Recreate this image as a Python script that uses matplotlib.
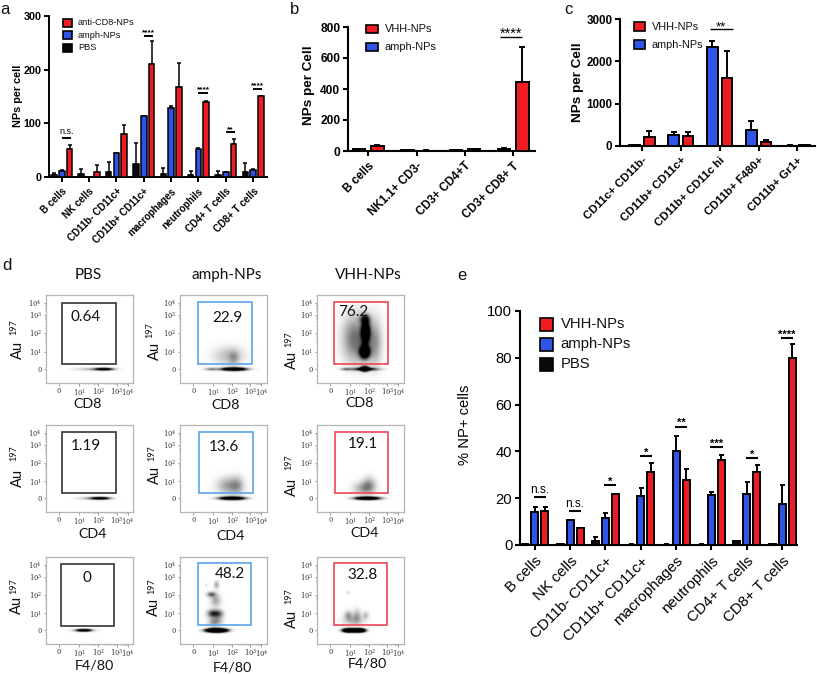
import numpy as np
import matplotlib
matplotlib.use("Agg")
import matplotlib.pyplot as plt
from matplotlib.patches import Rectangle
from matplotlib.transforms import Affine2D, ScaledTranslation

W, H = 817, 675
RED, BLUE, BLACK = "#f01c24", "#2f55e8", "#0a0a0a"
plt.rcParams["font.family"] = ["Liberation Sans", "DejaVu Sans"]

# ---------- panel a ----------
a_cats = ["B cells", "NK cells", "CD11b- CD11c+", "CD11b+ CD11c+", "macrophages", "neutrophils", "CD4+ T cells", "CD8+ T cells"]
a_pbs = [3, 6, 10, 24, 6, 4, 4, 9]
a_pbs_err = [4, 8, 18, 40, 11, 8, 8, 17]
a_amph = [12, 0, 44, 113, 128, 52, 9, 13]
a_amph_err = [0.5, 0, 1, 1, 4, 2, 1, 1]
a_red = [52, 10, 81, 210, 168, 140, 62, 150]
a_red_err = [8, 12, 16, 44, 44, 1, 8, 1]
a_sig_groups = [0, 3, 5, 6, 7]
a_sig_levels = [73, 263, 157, 83, 164]
a_sig_text = ["n.s.", "****", "****", "**", "****"]

# ---------- panel b ----------
b_cats = ["B cells", "NK1.1+ CD3-", "CD3+ CD4+T", "CD3+ CD8+ T"]
b_amph = [10, 5, 8, 14]
b_amph_err = [1, 1, 1, 4]
b_red = [30, 3, 13, 447]
b_red_err = [7, 1, 3, 223]

# ---------- panel c ----------
c_cats = ["CD11c+ CD11b-", "CD11b+ CD11c+", "CD11b+ CD11c hi", "CD11b+ F480+", "CD11b+ Gr1+"]
c_amph = [25, 265, 2350, 370, 10]
c_amph_err = [10, 75, 130, 230, 2]
c_red = [215, 235, 1600, 85, 25]
c_red_err = [130, 100, 640, 50, 5]

# ---------- panel e ----------
e_cats = a_cats
e_pbs = [0.5, 0.3, 1.7, 0.2, 0.2, 0.2, 1.5, 0.5]
e_pbs_err = [0.1, 0.1, 1.6, 0.1, 0.1, 0.1, 0.3, 0.1]
e_amph = [14, 10.5, 11.7, 21, 40, 21.3, 21.7, 17.7]
e_amph_err = [2.3, 0.2, 2, 3.3, 6.5, 1.4, 5.3, 7.8]
e_red = [14.7, 7.2, 21.7, 31, 27.8, 36.3, 31.2, 80]
e_red_err = [1.5, 0.2, 0.2, 4.2, 4.7, 2.3, 2.8, 5.8]
e_sig_levels = [20.5, 14.4, 25.5, 38, 50.5, 41.8, 37, 88.3]
e_sig_text = ["n.s.", "n.s.", "*", "*", "**", "***", "*", "****"]

# ---------- panel d ----------
d_cols = ["PBS", "amph-NPs", "VHH-NPs"]
d_markers = ["CD8", "CD4", "F4/80"]
d_values = [["0.64", "22.9", "76.2"], ["1.19", "13.6", "19.1"], ["0", "48.2", "32.8"]]
d_gate_colors = ["#333333", "#5aa5e8", "#ee4455"]
# density blobs: centre x, centre y, spread x, spread y, darkness (axes fractions)
d_blobs = [
    [[(.66, .156, .07, .010, 1.6), (.50, .156, .12, .012, .25)],
     [(.62, .156, .09, .012, 2.5), (.36, .156, .05, .011, .5), (.56, .31, .12, .07, .26), (.62, .28, .04, .06, .25)],
     [(.55, .156, .10, .012, 1.2), (.55, .160, .03, .02, 2.0), (.33, .156, .04, .010, .5),
      (.55, .35, .04, .05, 1.7), (.56, .58, .035, .09, 1.6), (.55, .73, .04, .035, .7),
      (.42, .50, .09, .17, .42), (.67, .46, .05, .17, .35), (.52, .50, .12, .20, .2)]],
    [[(.62, .156, .07, .010, 1.7), (.50, .156, .10, .012, .25)],
     [(.60, .156, .09, .012, 2.5), (.56, .30, .09, .07, .38), (.66, .30, .05, .07, .28)],
     [(.58, .156, .09, .012, 2.5), (.54, .27, .08, .05, .38), (.60, .32, .05, .06, .32)]],
    [[(.43, .156, .05, .009, 2.2), (.43, .156, .09, .012, .3)],
     [(.42, .155, .07, .014, 5.0), (.37, .35, .04, .03, .7), (.44, .35, .04, .03, .6), (.38, .25, .04, .04, .35),
      (.44, .27, .04, .04, .3), (.36, .57, .035, .02, .6), (.41, .50, .04, .05, .35), (.42, .68, .02, .03, .35), (.30, .68, .008, .01, .2)],
     [(.37, .155, .045, .014, 4.0), (.48, .155, .045, .014, 4.0), (.36, .33, .03, .035, .35), (.46, .33, .03, .05, .3),
      (.56, .33, .025, .03, .25), (.42, .27, .08, .04, .3), (.36, .59, .012, .012, .2), (.36, .77, .010, .010, .15)]],
]
flow_x_ticks = [.152, .384, .601, .810, .935]
flow_y_ticks = [.156, .354, .563, .772, .913]
flow_tick_labels = ["0", "10", "10", "10", "10"]

fig = plt.figure(figsize=(W / 100, H / 100), dpi=100, facecolor="white")
PX = Affine2D().scale(1 / W, -1 / H).translate(0, 1) + fig.transFigure


def ptext(x, y, s, **kw):
    kw.setdefault("ha", "center")
    kw.setdefault("va", "center")
    fig.text(x, y, s, transform=PX, **kw)


def bar_axes(left, right, top, bottom, first, spacing, ymax, yticks):
    ax = fig.add_axes([left / W, 1 - bottom / H, (right - left) / W, (bottom - top) / H])
    ax.set_xlim((left - first) / spacing, (right - first) / spacing)
    ax.set_ylim(0, ymax)
    ax.set_yticks(yticks)
    for s in ("top", "right"):
        ax.spines[s].set_visible(False)
    return ax


def bars(ax, pos, vals, errs, color, width, lw, cap):
    pos = np.asarray(pos, float)
    ax.errorbar(pos, vals, yerr=[np.zeros(len(vals)), errs], fmt="none", ecolor="black",
                elinewidth=lw, capsize=cap, capthick=lw, zorder=2, clip_on=False)
    ax.bar(pos, vals, width=width, color=color, edgecolor="black", linewidth=lw, zorder=3, clip_on=False)


def style(ax, cats, size, weight, ylabel, ysize, ytick_size, lw, label_xy):
    ax.set_xticks(range(len(cats)))
    ax.set_xticklabels(cats, rotation=45, ha="right", rotation_mode="anchor", fontsize=size, fontweight=weight)
    shift = ScaledTranslation(3 / 100, 0, fig.dpi_scale_trans)
    for t in ax.get_xticklabels():
        t.set_transform(t.get_transform() + shift)
    ax.tick_params(axis="x", width=lw, length=3.5, pad=3)
    ax.tick_params(axis="y", width=lw, length=3.5, labelsize=ytick_size, pad=2)
    for t in ax.get_yticklabels():
        t.set_fontweight(weight)
    for s in ("left", "bottom"):
        ax.spines[s].set_linewidth(lw)
    ax.set_ylabel(ylabel, fontsize=ysize, fontweight=weight)
    ax.yaxis.set_label_coords(label_xy[0], label_xy[1], transform=PX)


def sig(ax, x0, x1, y, s, size, lw=1.5, dy=0.5, weight="normal"):
    ax.plot([x0, x1], [y, y], color="black", lw=lw, clip_on=False, solid_capstyle="butt", zorder=4)
    ax.annotate(s, ((x0 + x1) / 2, y), xytext=(0, dy), textcoords="offset points", ha="center", va="bottom",
                fontsize=size, annotation_clip=False, fontweight=weight)


def legend(items, x0, x1, x_text, ys, h, size):
    for (label, color), y in zip(items, ys):
        fig.add_artist(Rectangle((x0, y - h / 2), x1 - x0, h, transform=PX, facecolor=color, edgecolor="black", lw=1.2))
        ptext(x_text, y, label, ha="left", fontsize=size, color="#111111")


# panel a
sp = 27.35
ax = bar_axes(49, 267, 16, 177, 61.7, sp, 300, [0, 100, 200, 300])
p = np.arange(len(a_cats))
d = 7.8 / sp
bars(ax, p - d, a_pbs, a_pbs_err, BLACK, 5.6 / sp, 1.1, 1.4)
bars(ax, p, a_amph, a_amph_err, BLUE, 5.6 / sp, 1.1, 1.4)
bars(ax, p + d, a_red, a_red_err, RED, 5.6 / sp, 1.1, 1.4)
style(ax, a_cats, 7, "bold", "NPs per cell", 7.8, 7.8, 1.4, (23, 96))
for g, lv, s in zip(a_sig_groups, a_sig_levels, a_sig_text):
    if s == "n.s.":
        sig(ax, g, g + d + 0.05, lv, s, 6.5, 1.4, 1)
    else:
        sig(ax, g, g + d + 0.05, lv, s, 6, 1.4, -0.5, "bold")
legend([("anti-CD8-NPs", RED), ("amph-NPs", BLUE), ("PBS", BLACK)], 63, 72, 78, [22.5, 35, 48], 8, 6.6)

# panel b
sp = 48.3
ax = bar_axes(348, 535, 27, 151, 368.3, sp, 800, [0, 200, 400, 600, 800])
p = np.arange(len(b_cats))
d = 9.1 / sp
bars(ax, p - d, b_amph, b_amph_err, BLUE, 12.5 / sp, 1.4, 2.5)
bars(ax, p + d, b_red, b_red_err, RED, 12.5 / sp, 1.4, 2.5)
style(ax, b_cats, 8.4, "bold", "NPs per Cell", 9.7, 8.6, 1.5, (315, 85))
sig(ax, 3 - 0.27, 3 + 0.19, 735, "****", 10.5, 1, -3)
legend([("VHH-NPs", RED), ("amph-NPs", BLUE)], 366, 378, 384.5, [29, 47], 8.5, 7.9)

# panel c
sp = 38.85
ax = bar_axes(620, 815, 19, 146, 642, sp, 3000, [0, 1000, 2000, 3000])
p = np.arange(len(c_cats))
d = 7.3 / sp
bars(ax, p - d, c_amph, c_amph_err, BLUE, 10.5 / sp, 1.4, 2.5)
bars(ax, p + d, c_red, c_red_err, RED, 10.5 / sp, 1.4, 2.5)
style(ax, c_cats, 8.2, "bold", "NPs per Cell", 9.7, 8.4, 1.5, (584, 82))
sig(ax, 2 - 0.26, 2 + 0.33, 2765, "**", 9.5, 1, -3)
legend([("VHH-NPs", RED), ("amph-NPs", BLUE)], 634, 645, 651.5, [26.5, 44.5], 8.5, 7.8)

# panel e
sp = 35.35
ax = bar_axes(520, 797, 311, 545, 534.7, sp, 100, [0, 20, 40, 60, 80, 100])
p = np.arange(len(e_cats))
d = 10 / sp
bars(ax, p - d, e_pbs, e_pbs_err, BLACK, 7 / sp, 1.4, 1.8)
bars(ax, p, e_amph, e_amph_err, BLUE, 7 / sp, 1.4, 1.8)
bars(ax, p + d, e_red, e_red_err, RED, 7 / sp, 1.4, 1.8)
style(ax, e_cats, 10.9, "normal", "% NP+ cells", 10.6, 10.6, 1.5, (472, 425))
for g, (lv, s) in enumerate(zip(e_sig_levels, e_sig_text)):
    if s == "n.s.":
        sig(ax, g - 0.03, g + d + 0.03, lv, s, 8.5, 1.5, 1)
    else:
        sig(ax, g - 0.03, g + d + 0.03, lv, s, 8, 1.5, -1, "bold")
legend([("VHH-NPs", RED), ("amph-NPs", BLUE), ("PBS", BLACK)], 540, 553, 560.5, [324, 344, 364], 13, 10.7)

# panel d
col_x = [(45.7, 133.3), (180, 267), (317, 404)]
row_y = [(295, 383), (425, 512), (557, 644)]
gates_x = [[(62.3, 115.7), (198.3, 252.3), (334.3, 388.3)],
           [(62.3, 115.7), (199.3, 252.7), (335.3, 388.3)],
           [(61, 114.3), (197.7, 251.3), (333.7, 387)]]
gates_y = [[(303, 364.3), (302.3, 364.3), (302.3, 364.3)],
           [(432, 493), (432, 493), (432, 493)],
           [(564.3, 625.7), (563.3, 625), (563.3, 625)]]
value_xy = [[(85.7, 316.7), (227.7, 317.7), (353.7, 311.7)],
            [(86, 446), (224, 446.7), (363, 444)],
            [(87, 578), (230, 574), (362, 575)]]
marker_xy = [[(88, 404), (226, 405), (360, 403)],
             [(93, 534), (231, 536), (365, 533)],
             [(94, 666), (232, 667), (367, 664)]]
au_xy = [[(18, 350), (155, 351), (292, 360)],
         [(18, 478), (155, 475), (292, 487)],
         [(17, 605), (154, 607), (292, 619)]]
sup_xy = [[(14, 327), (150, 330), (289, 339)],
          [(14, 453), (152, 453), (289, 462)],
          [(14, 586), (152, 586), (289, 596)]]
title_x = [88, 227, 368]
FLOW = ["Lato", "DejaVu Sans"]
grid = np.linspace(0, 1, 220)
gx, gy = np.meshgrid(grid, grid)
for r in range(3):
    for c in range(3):
        l, rt = col_x[c]
        t, b = row_y[r]
        ax = fig.add_axes([l / W, 1 - b / H, (rt - l) / W, (b - t) / H])
        dens = np.zeros_like(gx)
        for x0, y0, sx, sy, amp in d_blobs[r][c]:
            dens += amp * np.exp(-((gx - x0) / sx) ** 2 / 2 - ((gy - y0) / sy) ** 2 / 2)
        ax.imshow(dens, extent=(0, 1, 0, 1), origin="lower", aspect="auto", cmap="gray_r", vmin=0, vmax=1,
                  interpolation="bilinear")
        ax.set_xlim(0, 1)
        ax.set_ylim(0, 1)
        for s in ax.spines.values():
            s.set_color("#b5b5b5")
            s.set_linewidth(0.9)
        ax.set_xticks(flow_x_ticks)
        ax.set_yticks(flow_y_ticks)
        lbl = [flow_tick_labels[0]] + [f"$\\mathdefault{{{v}^{{{i + 1}}}}}$" for i, v in enumerate(flow_tick_labels[1:])]
        ax.set_xticklabels(lbl, fontsize=4.9, family="DejaVu Serif", color="#333333")
        ax.set_yticklabels(lbl, fontsize=4.9, family="DejaVu Serif", color="#333333")
        ax.tick_params(length=1.8, width=0.5, color="#777777", pad=1)
        minor_x = [a + (b2 - a) * np.log10(k) for a, b2 in zip(flow_x_ticks[1:], flow_x_ticks[2:]) for k in range(2, 10)]
        minor_y = [a + (b2 - a) * np.log10(k) for a, b2 in zip(flow_y_ticks[1:], flow_y_ticks[2:]) for k in range(2, 10)]
        ax.set_xticks(minor_x, minor=True)
        ax.set_yticks(minor_y, minor=True)
        ax.tick_params(which="minor", length=1, width=0.4, color="#777777")
        gx0, gx1 = gates_x[r][c]
        gy0, gy1 = gates_y[r][c]
        fig.add_artist(Rectangle((gx0, gy0), gx1 - gx0, gy1 - gy0, transform=PX, fill=False,
                                 edgecolor=d_gate_colors[c], lw=1.2))
        ptext(*value_xy[r][c], d_values[r][c], fontsize=11, family=FLOW, color="#111111")
        ptext(*marker_xy[r][c], d_markers[r], fontsize=10.3, family=FLOW, color="#111111")
        ptext(*au_xy[r][c], "Au", fontsize=10.5, family=FLOW, rotation=90, color="#111111")
        ptext(*sup_xy[r][c], "197", fontsize=6.5, family=FLOW, rotation=90, color="#111111")
for x, s in zip(title_x, d_cols):
    ptext(x, 275, s, fontsize=11, family=FLOW, color="#111111")

# panel letters
for x, y, s in [(5, 9, "a"), (295, 9, "b"), (568, 10, "c"), (7, 265, "d"), (462, 275, "e")]:
    ptext(x, y, s, fontsize=12, color="#111111")

fig.savefig("out.png", dpi=100, facecolor="white")
